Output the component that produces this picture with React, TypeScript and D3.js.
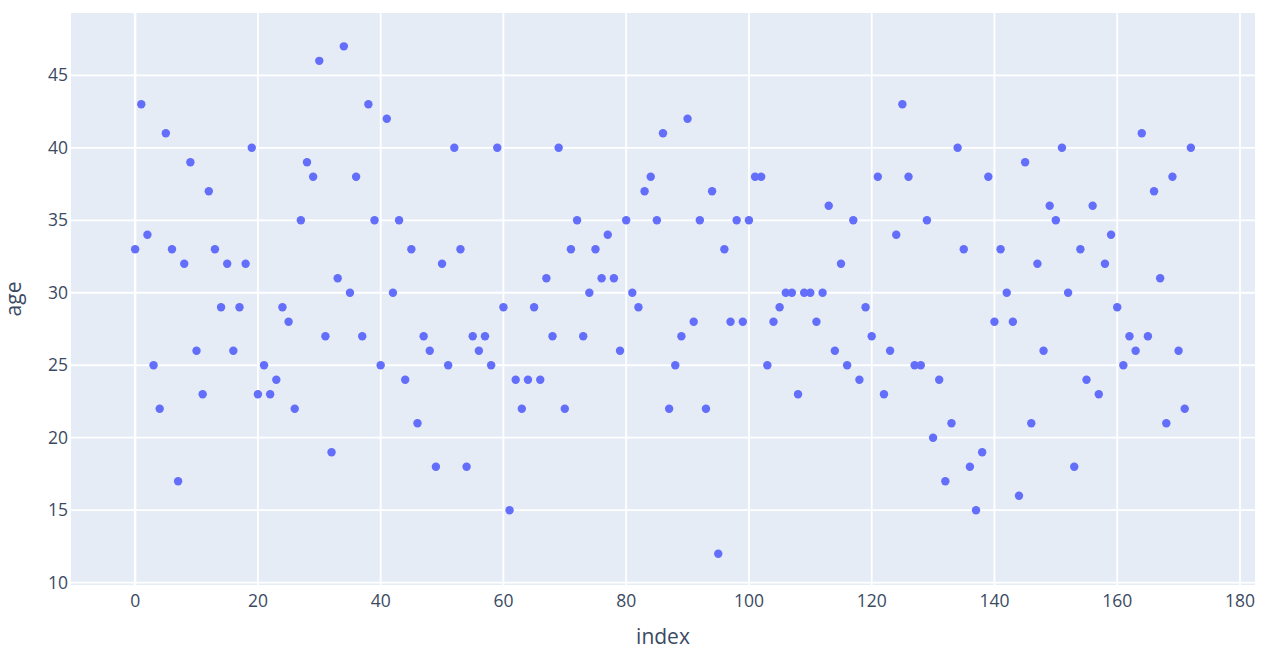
import { useEffect, useRef } from "react";
import * as d3 from "d3";

const ages = [
  33, 43, 34, 25, 22, 41, 33, 17, 32, 39,
  26, 23, 37, 33, 29, 32, 26, 29, 32, 40,
  23, 25, 23, 24, 29, 28, 22, 35, 39, 38,
  46, 27, 19, 31, 47, 30, 38, 27, 43, 35,
  25, 42, 30, 35, 24, 33, 21, 27, 26, 18,
  32, 25, 40, 33, 18, 27, 26, 27, 25, 40,
  29, 15, 24, 22, 24, 29, 24, 31, 27, 40,
  22, 33, 35, 27, 30, 33, 31, 34, 31, 26,
  35, 30, 29, 37, 38, 35, 41, 22, 25, 27,
  42, 28, 35, 22, 37, 12, 33, 28, 35, 28,
  35, 38, 38, 25, 28, 29, 30, 30, 23, 30,
  30, 28, 30, 36, 26, 32, 25, 35, 24, 29,
  27, 38, 23, 26, 34, 43, 38, 25, 25, 35,
  20, 24, 17, 21, 40, 33, 18, 15, 19, 38,
  28, 33, 30, 28, 16, 39, 21, 32, 26, 36,
  35, 40, 30, 18, 33, 24, 36, 23, 32, 34,
  29, 25, 27, 26, 41, 27, 37, 31, 21, 38,
  26, 22, 40,
];
const indices = ages.map((_, i) => i);
const xTicks = [0, 20, 40, 60, 80, 100, 120, 140, 160, 180];
const yTicks = [10, 15, 20, 25, 30, 35, 40, 45];

const width = 1280;
const height = 666;
const margin = { top: 13, right: 25, bottom: 81, left: 71 };

function ScatterChart() {
  const ref = useRef<SVGSVGElement>(null);

  useEffect(() => {
    const svg = d3.select(ref.current);
    svg.selectAll("*").remove();

    const innerW = width - margin.left - margin.right;
    const innerH = height - margin.top - margin.bottom;

    const x = d3.scaleLinear().domain([-10.45, 182.45]).range([0, innerW]);
    const y = d3.scaleLinear().domain([9.84, 49.3]).range([innerH, 0]);

    const g = svg
      .append("g")
      .attr("transform", `translate(${margin.left},${margin.top})`);

    g.append("rect")
      .attr("width", innerW)
      .attr("height", innerH)
      .attr("fill", "#e5ecf6");

    // grid
    g.selectAll(".gx")
      .data(xTicks)
      .enter()
      .append("line")
      .attr("x1", (d) => x(d))
      .attr("x2", (d) => x(d))
      .attr("y1", 0)
      .attr("y2", innerH)
      .attr("stroke", "#fff")
      .attr("stroke-width", (d) => (d === 0 ? 2.5 : 1.8));

    g.selectAll(".gy")
      .data(yTicks)
      .enter()
      .append("line")
      .attr("x1", 0)
      .attr("x2", innerW)
      .attr("y1", (d) => y(d))
      .attr("y2", (d) => y(d))
      .attr("stroke", "#fff")
      .attr("stroke-width", 1.8);

    // tick labels
    g.selectAll(".tx")
      .data(xTicks)
      .enter()
      .append("text")
      .attr("x", (d) => x(d))
      .attr("y", innerH + 22)
      .attr("text-anchor", "middle")
      .attr("font-size", 17.5)
      .attr("fill", "#3b4a63")
      .text((d) => d);

    g.selectAll(".ty")
      .data(yTicks)
      .enter()
      .append("text")
      .attr("x", -3)
      .attr("y", (d) => y(d))
      .attr("dy", "0.35em")
      .attr("text-anchor", "end")
      .attr("font-size", 17.5)
      .attr("fill", "#3b4a63")
      .text((d) => d);

    // points
    g.selectAll("circle")
      .data(indices)
      .enter()
      .append("circle")
      .attr("cx", (d) => x(d))
      .attr("cy", (d) => y(ages[d]))
      .attr("r", 4.2)
      .attr("fill", "#636efa");

    // axis titles
    svg
      .append("text")
      .attr("x", margin.left + innerW / 2)
      .attr("y", 644)
      .attr("text-anchor", "middle")
      .attr("font-size", 21)
      .attr("fill", "#3b4a63")
      .text("index");

    svg
      .append("text")
      .attr("transform", `translate(21,${margin.top + innerH / 2}) rotate(-90)`)
      .attr("text-anchor", "middle")
      .attr("font-size", 21)
      .attr("fill", "#3b4a63")
      .text("age");
  }, []);

  return (
    <svg
      ref={ref}
      width={width}
      height={height}
      style={{ fontFamily: "'Open Sans', Verdana, Arial, sans-serif", display: "block" }}
    />
  );
}

export default function App() {
  return (
    <div style={{ position: "absolute", left: 0, top: 0, background: "#fff" }}>
      <ScatterChart />
    </div>
  );
}
